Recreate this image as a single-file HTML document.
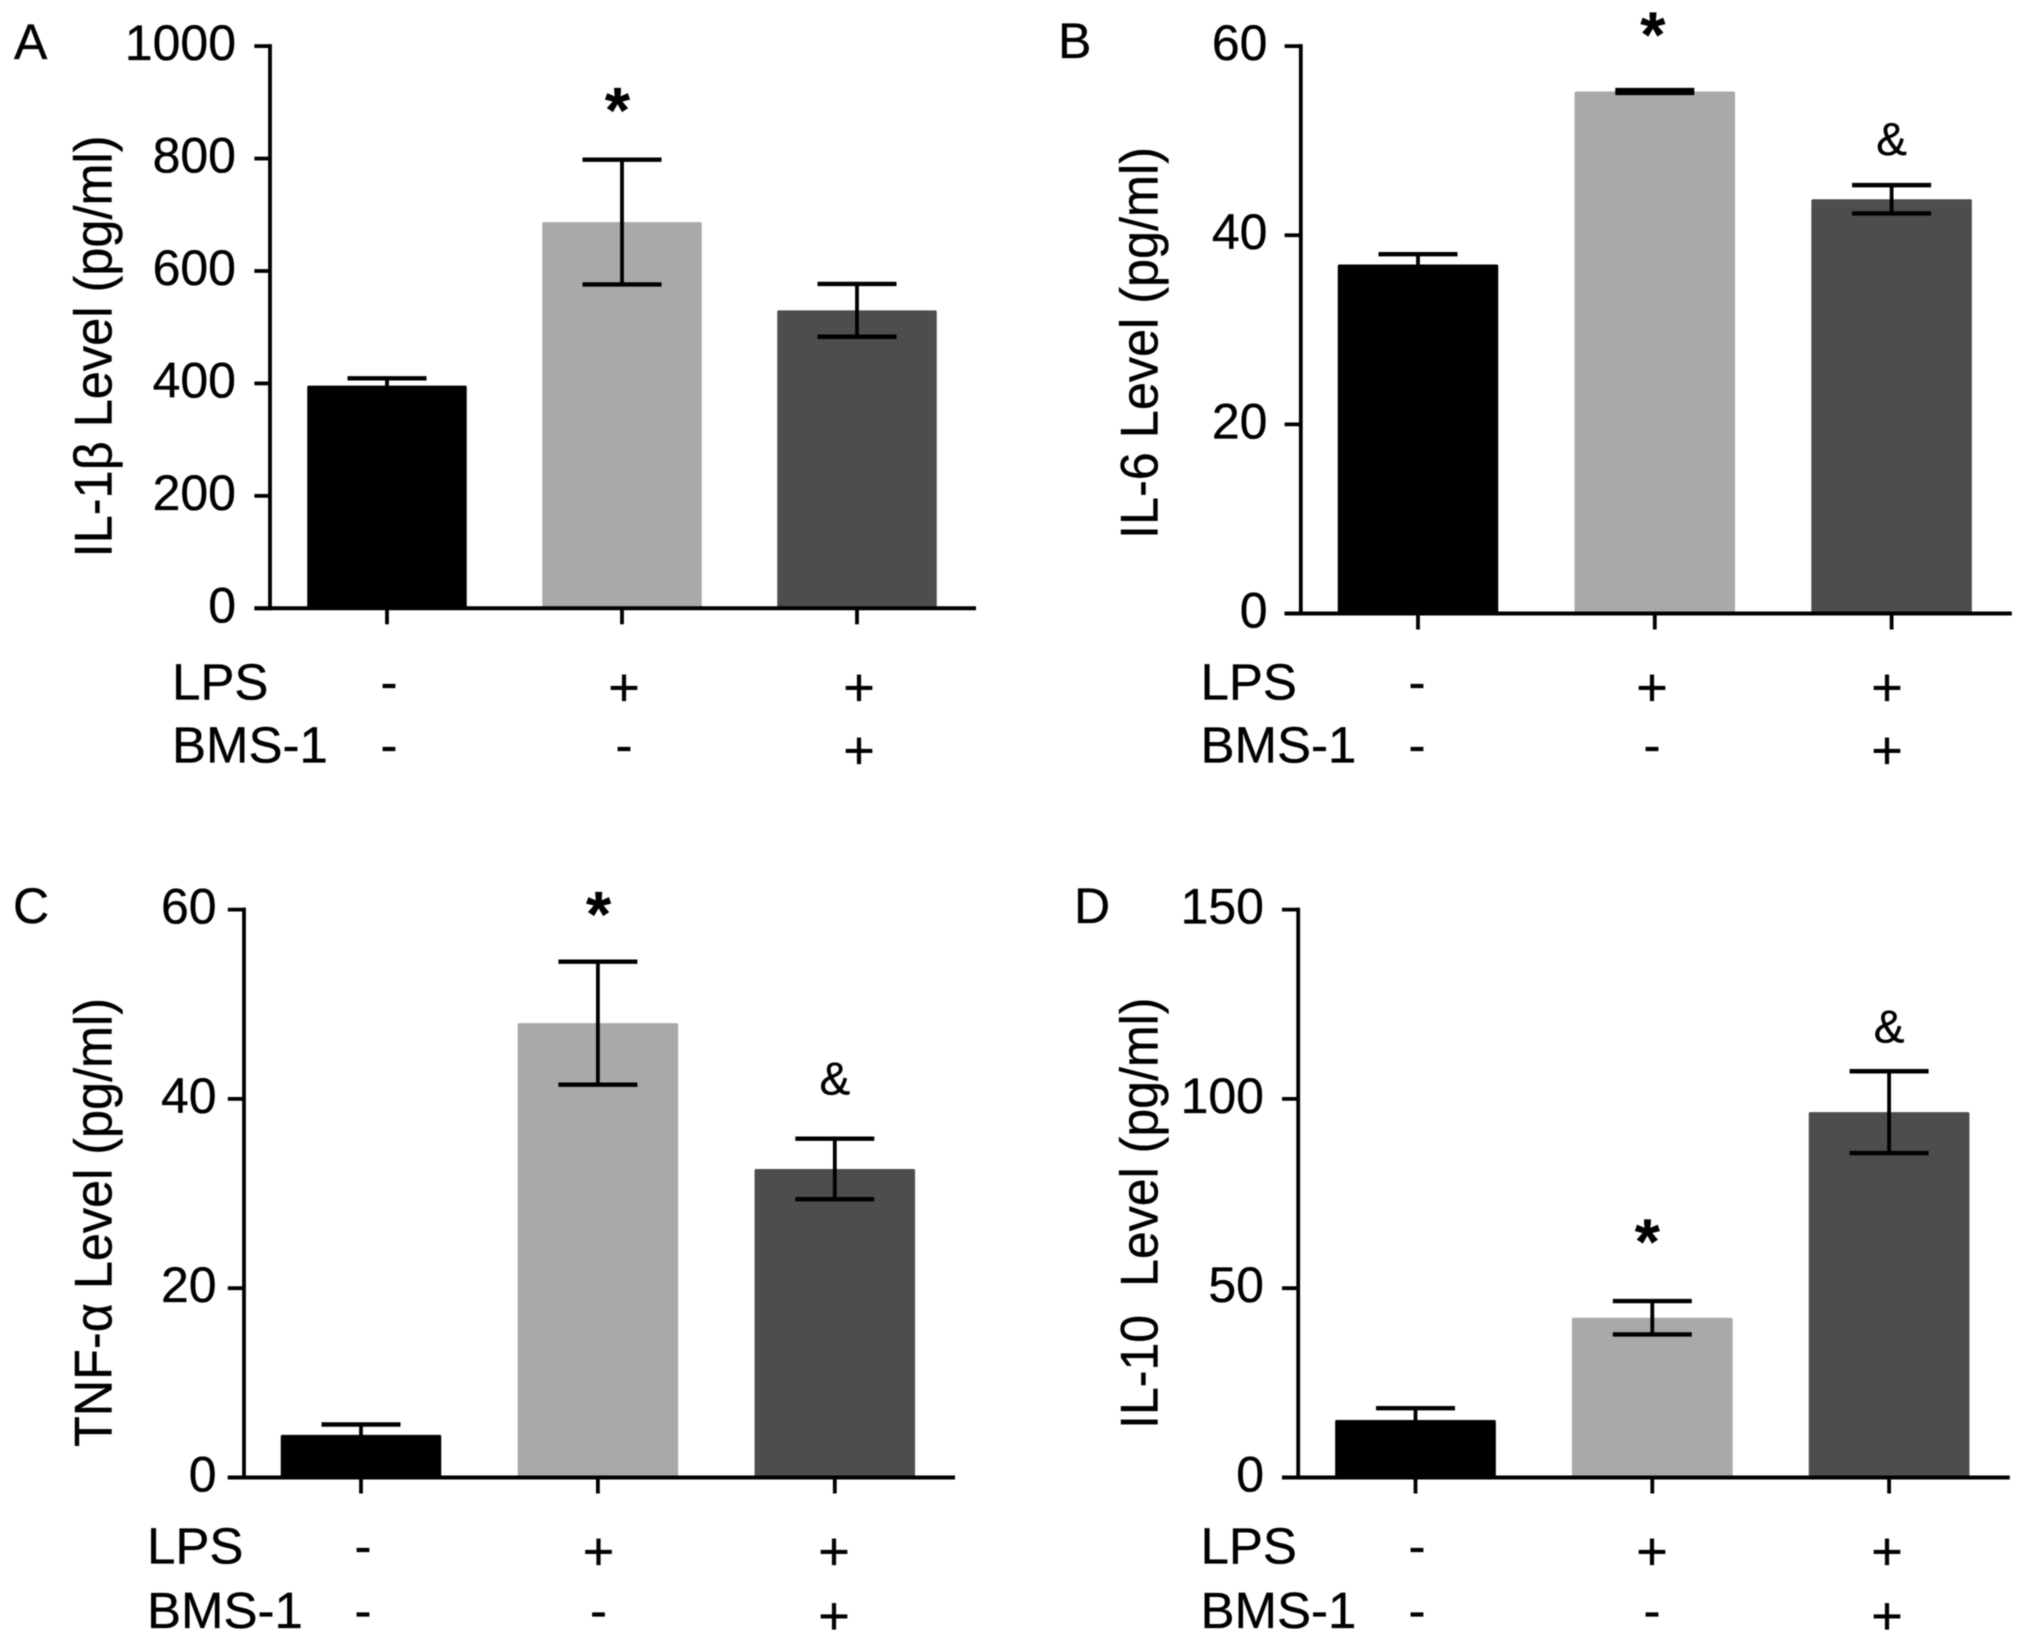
<!DOCTYPE html>
<html lang="en">
<head>
<meta charset="utf-8">
<title>Cytokine levels bar charts</title>
<style>
html,body{margin:0;padding:0;background:#fff;}
svg{display:block;filter:blur(0.5px);}
text{font-family:"Liberation Sans",sans-serif;fill:#000;stroke:#000;stroke-width:0.35px;}
</style>
</head>
<body>
<svg id="figure" xmlns="http://www.w3.org/2000/svg" width="2031" height="1644" viewBox="0 0 2031 1644"></svg>
<script>
const lpsLabels = ['-', '+', '+'];
const bmsLabels = ['-', '-', '+'];
const barColors = ['#000000', '#a9a9a9', '#4d4d4d'];

const il1bValues = [396, 687, 530];
const il1bErrors = [13, 111, 47];
const il1bTicks = [0, 200, 400, 600, 800, 1000];
const il1bStars = [null, 901, null];
const il1bAmps = [null, null, null];

const il6Values = [36.9, 55.2, 43.8];
const il6Errors = [1.1, 0.15, 1.5];
const il6Ticks = [0, 20, 40, 60];
const il6Stars = [null, 62.1, null];
const il6Amps = [null, null, 49.9];

const tnfValues = [4.5, 48, 32.6];
const tnfErrors = [1.1, 6.5, 3.2];
const tnfTicks = [0, 20, 40, 60];
const tnfStars = [null, 60.4, null];
const tnfAmps = [null, null, 41.9];

const il10Values = [15.2, 42.2, 96.5];
const il10Errors = [3.1, 4.4, 10.8];
const il10Ticks = [0, 50, 100, 150];
const il10Stars = [null, 64.4, null];
const il10Amps = [null, null, 118.5];

const svg = document.getElementById('figure');
const NS = 'http://www.w3.org/2000/svg';

function mark(tag, parent, name, props, content) {
  const el = document.createElementNS(NS, tag);
  
  
  for (const k in props) el.setAttribute(k, props[k]);
  if (content !== undefined) el.textContent = content;
  parent.appendChild(el);
  return el;
}

function line(parent, name, x1, y1, x2, y2, w) {
  return mark('line', parent, name, {x1, y1, x2, y2, stroke: '#000', 'stroke-width': w});
}

function signText(parent, name, x, baseline, sign) {
  const isPlus = sign === '+';
  return mark('text', parent, name, {
    x: x, y: isPlus ? baseline + 6 : baseline, 'text-anchor': 'middle',
    'font-size': isPlus ? 54 : 51
  }, sign);
}

function drawPanel(p) {
  const g = mark('g', svg, 'panel-' + p.id.toLowerCase(), {});
  const yMax = p.ticks[p.ticks.length - 1];
  const yScale = v => p.y0 - (v / yMax) * (p.y0 - p.yTop);
  const xScale = i => p.x0 + p.step * i;

  // bars
  p.values.forEach((v, i) => {
    const cx = xScale(i);
    mark('rect', g, 'bar-' + (i + 1), {
      x: cx - p.barW / 2, y: yScale(v), width: p.barW, height: p.y0 - yScale(v),
      fill: barColors[i], rx: 1.5
    });
  });

  // error bars
  p.values.forEach((v, i) => {
    const cx = xScale(i);
    const hi = yScale(v + p.errors[i]);
    const lo = yScale(v - p.errors[i]);
    line(g, 'error-stem-' + (i + 1), cx, hi, cx, lo, 3.8);
    line(g, 'error-cap-top-' + (i + 1), cx - 39.5, hi, cx + 39.5, hi, 4.4);
    line(g, 'error-cap-bottom-' + (i + 1), cx - 39.5, lo, cx + 39.5, lo, 4.4);
  });

  // axes
  line(g, 'y-axis', p.axisX, p.yTop - 2, p.axisX, p.y0 + 2, 3.8);
  line(g, 'x-axis', p.tickL, p.y0, p.xEnd, p.y0, 4);

  p.ticks.forEach(t => {
    const y = yScale(t);
    line(g, 'y-tick-' + t, p.tickL, y, p.axisX, y, 3.8);
    mark('text', g, 'y-tick-label-' + t, {
      x: p.labelR + 3, y: y + 14, 'text-anchor': 'end', 'font-size': 50
    }, String(t));
  });

  p.values.forEach((v, i) => {
    const cx = xScale(i);
    const sx = p.signX + p.signStep * i;
    line(g, 'x-tick-' + (i + 1), cx, p.y0, cx, p.y0 + 16, 3.8);
    signText(g, 'lps-sign-' + (i + 1), sx, p.rowA, lpsLabels[i]);
    signText(g, 'bms-sign-' + (i + 1), sx, p.rowB, bmsLabels[i]);
    if (p.stars[i] !== null) {
      mark('text', g, 'significance-star-' + (i + 1), {
        x: cx + p.starDx, y: yScale(p.stars[i]) + 30, 'text-anchor': 'middle',
        'font-size': 64, 'font-weight': 'bold'
      }, '*');
    }
    if (p.amps[i] !== null) {
      mark('text', g, 'significance-ampersand-' + (i + 1), {
        x: cx, y: yScale(p.amps[i]) + 13.5, 'text-anchor': 'middle', 'font-size': 46
      }, '&');
    }
  });

  mark('text', g, 'lps-row-label', {x: p.rowX, y: p.rowA, 'font-size': 51}, 'LPS');
  mark('text', g, 'bms-row-label', {x: p.rowX, y: p.rowB, 'font-size': 51}, 'BMS-1');

  mark('text', g, 'panel-letter', {x: p.letterX, y: p.letterY, 'font-size': 50}, p.id);

  const title = mark('text', g, 'y-axis-title', {
    transform: 'translate(' + p.titleX + ',' + p.titleStart + ') rotate(-90)',
    'font-size': 53, textLength: p.titleLen, lengthAdjust: 'spacingAndGlyphs'
  }, p.title);
  title.setAttribute('xml:space', 'preserve');
}

drawPanel({
  id: 'A', title: 'IL-1\u03B2 Level (pg/ml)', values: il1bValues, errors: il1bErrors, ticks: il1bTicks,
  stars: il1bStars, amps: il1bAmps, starDx: -4.5,
  axisX: 270, tickL: 254.4, xEnd: 976, yTop: 46.1, y0: 608.3,
  x0: 387, step: 235, barW: 159.5, labelR: 233,
  signX: 389, signStep: 235,
  rowX: 172, rowA: 699.5, rowB: 762.5,
  letterX: 14, letterY: 59,
  titleX: 111.5, titleStart: 557.4, titleLen: 422
});
drawPanel({
  id: 'B', title: 'IL-6 Level (pg/ml)', values: il6Values, errors: il6Errors, ticks: il6Ticks,
  stars: il6Stars, amps: il6Amps, starDx: -2,
  axisX: 1300.8, tickL: 1284.6, xEnd: 2011.8, yTop: 46.1, y0: 613.5,
  x0: 1418, step: 236.8, barW: 160.5, labelR: 1264.5,
  signX: 1417, signStep: 235,
  rowX: 1200.5, rowA: 699.5, rowB: 762.5,
  letterX: 1058, letterY: 58,
  titleX: 1157.5, titleStart: 539, titleLen: 392
});
drawPanel({
  id: 'C', title: 'TNF-\u03B1 Level (pg/ml)', values: tnfValues, errors: tnfErrors, ticks: tnfTicks,
  stars: tnfStars, amps: tnfAmps, starDx: 0.7,
  axisX: 244, tickL: 227.8, xEnd: 955, yTop: 909.6, y0: 1477.5,
  x0: 361, step: 236.9, barW: 160.5, labelR: 213.6,
  signX: 363, signStep: 235.5,
  rowX: 147, rowA: 1563.5, rowB: 1628,
  letterX: 13, letterY: 923,
  titleX: 111.5, titleStart: 1447, titleLen: 449
});
drawPanel({
  id: 'D', title: 'IL-10\u00A0\u00A0Level (pg/ml)', values: il10Values, errors: il10Errors, ticks: il10Ticks,
  stars: il10Stars, amps: il10Amps, starDx: -5,
  axisX: 1298.2, tickL: 1282, xEnd: 2009.8, yTop: 909.6, y0: 1477.5,
  x0: 1415.5, step: 236.8, barW: 160.7, labelR: 1261,
  signX: 1417, signStep: 235,
  rowX: 1200.5, rowA: 1563.5, rowB: 1628,
  letterX: 1074, letterY: 923,
  titleX: 1157.5, titleStart: 1429, titleLen: 431.5
});
</script>
</body>
</html>
